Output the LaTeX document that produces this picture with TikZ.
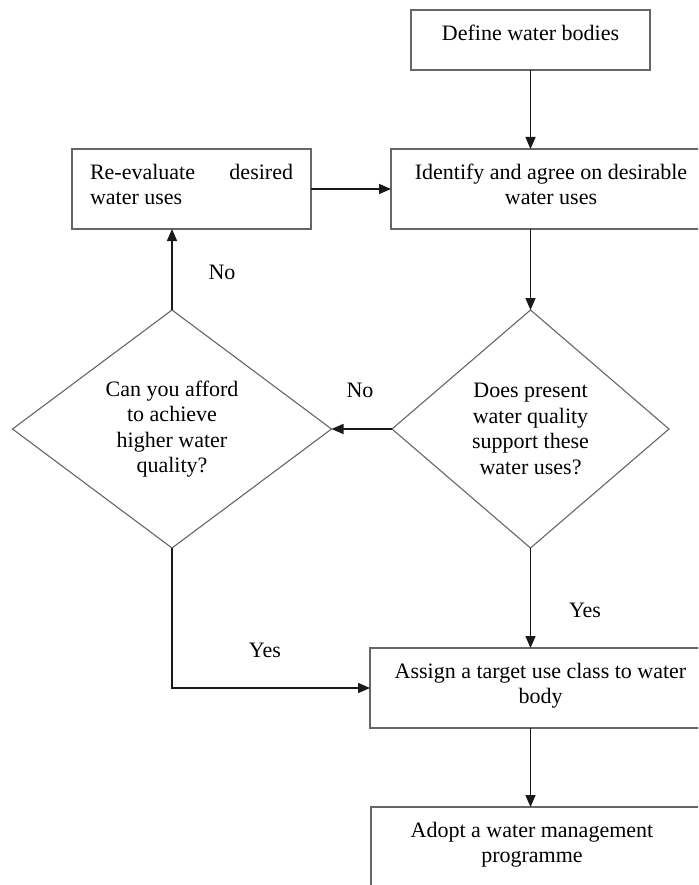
\documentclass[tikz,border=0pt]{standalone}
\usepackage{fontspec}
\setmainfont{Liberation Serif}
\usetikzlibrary{shapes.geometric,arrows.meta}
\newcommand{\bxt}[3]{\parbox[c][#2][t]{#1}{\vspace*{15pt}#3}}
\tikzset{
  every node/.style={font=\fontsize{22}{25.5}\selectfont, inner sep=0pt, outer sep=0pt},
  box/.style={draw=black!60, line width=1.6pt, rectangle},
  dia/.style={draw=black!60, line width=1.1pt, diamond, align=center},
  arr/.style={draw=black!90, line width=1.5pt, -{Triangle[length=12pt,width=10pt]}},
  lbl/.style={}
}
\begin{document}
\begin{tikzpicture}[x=1pt,y=-1pt]
\useasboundingbox (0,0) rectangle (698,885);
\clip (0,0) rectangle (698,885);
\fill[white] (0,0) rectangle (698,885);

\node[box] (def) at (530.5,40) {\bxt{239pt}{60pt}{\centering Define water bodies}};
\node[box] (ident) at (551,189) {\bxt{320pt}{80pt}{\centering Identify and agree on desirable\\water uses}};
\node[box] (reeval) at (191.5,189) {\bxt{239pt}{80pt}{\leftskip=18pt\rightskip=18pt\parindent=0pt Re-evaluate\hfill desired\\water uses}};
\node[dia, minimum width=319pt, minimum height=238pt, shape aspect=1.34] (afford) at (172,429) {Can you afford\\to achieve\\higher water\\quality?};
\node[dia, minimum width=277pt, minimum height=238pt, shape aspect=1.16] (sup) at (530.5,429) {Does present\\water quality\\support these\\water uses?};
\node[box] (assign) at (540.5,688) {\bxt{341pt}{80pt}{\centering Assign a target use class to water\\body}};
\node[box] (adopt) at (541,857) {\bxt{340pt}{100pt}{\centering\rightskip=18pt plus 1fil Adopt a water management\\programme}};

\draw[arr] (def.south) -- (def.south |- ident.north);
\draw[arr] (reeval.east) -- (ident.west);
\draw[arr] (sup.north |- ident.south) -- (sup.north);
\draw[arr] (sup.west) -- (afford.east);
\draw[arr] (afford.north) -- (afford.north |- reeval.south);
\draw[arr] (sup.south) -- (sup.south |- assign.north);
\draw[arr] (afford.south) |- (assign.west);
\draw[arr] (sup.south |- assign.south) -- (sup.south |- adopt.north);

\node[lbl] (no1) at (222,272) {No};
\node[lbl] (no2) at (360,390) {No};
\node[lbl] (yes1) at (585,610) {Yes};
\node[lbl] (yes2) at (265,650) {Yes};
\end{tikzpicture}
\end{document}
